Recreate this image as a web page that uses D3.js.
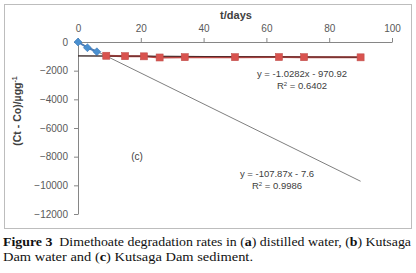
<!DOCTYPE html>
<html lang="en">
<head>
    <meta charset="UTF-8">
    <title>Dimethoate degradation (c)</title>
    <script src="https://d3js.org/d3.v7.min.js"></script>
    <style>
        body { margin: 0; background: #fff; }
        .axis text { font-family: "Liberation Sans", sans-serif; font-size: 10px; fill: #595959; }
        .axis path, .axis line { stroke: #868686; }
        .eq { font-family: "Liberation Sans", sans-serif; font-size: 9.5px; fill: #404040; }
        .caption { font-family: "Liberation Serif", serif; font-size: 13px; fill: #111; }
    </style>
</head>
<body>
<svg id="canvas" width="416" height="273"></svg>
<script>
    // series
    const blueDays = [0, 3, 6];
    const blueVals = [0, -400, -680];
    const redDays = [9, 15, 21, 26, 34, 50, 64, 72, 90];
    const redVals = [-960, -990, -1000, -1080, -1060, -1060, -1050, -1060, -1070];

    // linear trendlines as printed on the chart
    const trendSlopes = [-107.87, -1.0282];
    const trendIntercepts = [-7.6, -970.92];
    const trendLabels = [["y = -107.87x - 7.6", "R\u00b2 = 0.9986"], ["y = -1.0282x - 970.92", "R\u00b2 = 0.6402"]];

    const xTicks = [0, 20, 40, 60, 80, 100];
    const yTicks = [0, -2000, -4000, -6000, -8000, -10000, -12000];

    let svg = d3.select('svg');

    // chart frame
    svg.append('rect').attr('x', 4.5).attr('y', 4.5).attr('width', 407).attr('height', 224)
        .attr('fill', 'white').attr('stroke', '#bdbdbd');

    const x = d3.scaleLinear().domain([0, 100]).range([78, 392]);
    const y = d3.scaleLinear().domain([0, -12000]).range([42, 214]);

    svg.append('g').attr('class', 'axis')
        .attr('transform', `translate(0,${y(0)})`)
        .call(d3.axisTop(x).tickValues(xTicks).tickSize(4).tickSizeOuter(0).tickPadding(6));

    svg.append('g').attr('class', 'axis')
        .attr('transform', `translate(${x(0)},0)`)
        .call(d3.axisLeft(y).tickValues(yTicks).tickFormat(d3.format('d')).tickSize(4).tickSizeOuter(0).tickPadding(6));

    // axis titles
    svg.append('text').attr('x', 236).attr('y', 19).attr('text-anchor', 'middle')
        .style('font-family', '"Liberation Sans", sans-serif').style('font-size', '11px')
        .style('font-weight', 'bold').attr('fill', '#404040').text('t/days');

    svg.append('text').attr('transform', 'translate(21,111) rotate(-90)').attr('text-anchor', 'middle')
        .style('font-family', '"Liberation Sans", sans-serif').style('font-size', '10.5px')
        .style('font-weight', 'bold').attr('fill', '#404040')
        .html('(Ct - Co)/\u00b5gg<tspan dy="-4" font-size="7">-1</tspan>');

    // trendlines (thin dark)
    const trendRanges = [[0, 90], [0, 90]];
    trendSlopes.forEach((m, i) => {
        const b = trendIntercepts[i];
        const [x0, x1] = trendRanges[i];
        svg.append('line')
            .attr('x1', x(x0)).attr('y1', y(m * x0 + b))
            .attr('x2', x(x1)).attr('y2', y(m * x1 + b))
            .attr('stroke', i === 0 ? '#7f7f7f' : '#404040').attr('stroke-width', 1);
    });

    const line = d3.line().x(d => x(d[0])).y(d => y(d[1]));

    // blue series
    const blue = blueDays.map((d, i) => [d, blueVals[i]]);
    svg.append('path').datum(blue).attr('d', line).attr('fill', 'none')
        .attr('stroke', '#4a7ebb').attr('stroke-width', 2);
    svg.selectAll('path.dia').data(blue).enter().append('path').attr('class', 'dia')
        .attr('d', d3.symbol(d3.symbolDiamond2, 40))
        .attr('transform', d => `translate(${x(d[0])},${y(d[1])})`)
        .attr('fill', '#4a90d0').attr('stroke', '#3a78b8').attr('stroke-width', 0.6);

    // red series
    const red = redDays.map((d, i) => [d, redVals[i]]);
    svg.append('path').datum(red).attr('d', line).attr('fill', 'none')
        .attr('stroke', '#be4b48').attr('stroke-width', 2);
    svg.append('line')
        .attr('x1', x(0)).attr('y1', y(trendIntercepts[1]))
        .attr('x2', x(90)).attr('y2', y(trendSlopes[1] * 90 + trendIntercepts[1]))
        .attr('stroke', '#3a2020').attr('stroke-width', 0.8);
    svg.selectAll('rect.sq').data(red).enter().append('rect').attr('class', 'sq')
        .attr('x', d => x(d[0]) - 3.5).attr('y', d => y(d[1]) - 3.5)
        .attr('width', 7).attr('height', 7)
        .attr('fill', '#d9534f').attr('stroke', '#c0504d').attr('stroke-width', 0.6);

    // trendline equations
    const labelPos = [[277, 177], [302, 77]];
    trendLabels.forEach((lines, i) => {
        lines.forEach((t, j) => {
            const el = svg.append('text').attr('class', 'eq').attr('text-anchor', 'middle')
                .attr('x', labelPos[i][0]).attr('y', labelPos[i][1] + j * 12);
            if (j === 1) {
                el.html('R<tspan dy="-3" font-size="6">2</tspan><tspan dy="3"> = ' + t.split(' = ')[1] + '</tspan>');
            } else {
                el.text(t);
            }
        });
    });

    svg.append('text').attr('class', 'eq').attr('x', 137).attr('y', 160)
        .attr('text-anchor', 'middle').style('font-size', '10px').text('(c)');

    // caption
    svg.append('text').attr('class', 'caption').attr('x', 3).attr('y', 246)
        .attr('textLength', 408).attr('lengthAdjust', 'spacingAndGlyphs')
        .html('<tspan font-weight="bold">Figure 3</tspan>\u2002Dimethoate degradation rates in (<tspan font-weight="bold">a</tspan>) distilled water, (<tspan font-weight="bold">b</tspan>) Kutsaga');
    svg.append('text').attr('class', 'caption').attr('x', 3).attr('y', 261)
        .attr('textLength', 250).attr('lengthAdjust', 'spacingAndGlyphs')
        .html('Dam water and (<tspan font-weight="bold">c</tspan>) Kutsaga Dam sediment.');
</script>
</body>
</html>
